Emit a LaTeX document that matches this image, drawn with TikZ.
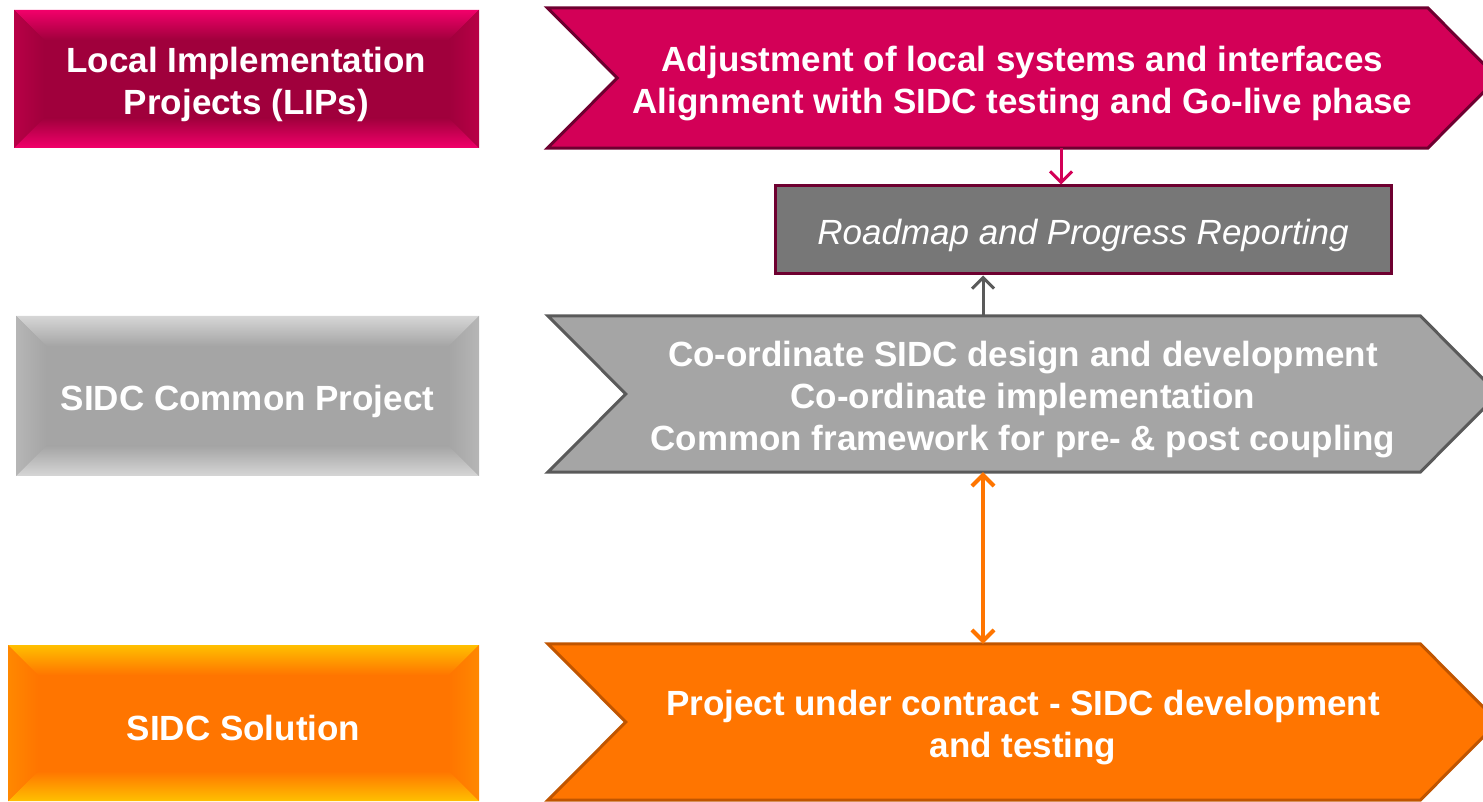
\documentclass[tikz,border=0pt]{standalone}
\usepackage{fontspec}
\setmainfont{Liberation Sans}
\usetikzlibrary{arrows.meta,backgrounds}

\definecolor{lipfill}{HTML}{D30057}
\definecolor{lipline}{HTML}{6E0030}
\definecolor{lipdark}{HTML}{A0003C}
\definecolor{liplight}{HTML}{F2006A}
\definecolor{lipside}{HTML}{B80046}
\definecolor{commonfill}{HTML}{A5A5A5}
\definecolor{commonline}{HTML}{5A5A5A}
\definecolor{commonlight}{HTML}{D6D6D6}
\definecolor{commonside}{HTML}{B6B6B6}
\definecolor{solfill}{HTML}{FF7500}
\definecolor{solline}{HTML}{C05500}
\definecolor{sollight}{HTML}{FFC000}
\definecolor{solside}{HTML}{FF8800}
\definecolor{roadgray}{HTML}{777777}

\newcommand{\lift}{\rule{0pt}{36pt}}

\begin{document}
\begin{tikzpicture}[x=1pt, y=1pt,
  every node/.style={text=white, align=center, inner sep=0pt,
    font=\fontsize{35}{42}\selectfont\bfseries},
  bevel/.style n args={3}{fill=#1, path picture={
    \coordinate (nw) at (path picture bounding box.north west);
    \coordinate (ne) at (path picture bounding box.north east);
    \coordinate (sw) at (path picture bounding box.south west);
    \coordinate (se) at (path picture bounding box.south east);
    \shade[top color=#2, bottom color=#1] (nw) -- (ne) -- ([shift={(-30,-30)}]ne) -- ([shift={(30,-30)}]nw) -- cycle;
    \shade[top color=#1, bottom color=#2] (sw) -- (se) -- ([shift={(-30,30)}]se) -- ([shift={(30,30)}]sw) -- cycle;
    \shade[left color=#3, right color=#1] (nw) -- ([shift={(30,-30)}]nw) -- ([shift={(30,30)}]sw) -- (sw) -- cycle;
    \shade[left color=#1, right color=#3] (ne) -- ([shift={(-30,-30)}]ne) -- ([shift={(-30,30)}]se) -- (se) -- cycle;
  }},
  body/.style={minimum width=950, minimum height=#1},
  chevron/.style={line width=3, line join=miter},
  link/.style={line width=3, -{Straight Barb[length=11, width=22, line width=3]}}
]
\useasboundingbox (0,0) rectangle (1483,801);

% left column
\node[bevel={lipdark}{liplight}{lipside}, minimum width=465, minimum height=138] (lip) at (246.5,722)
  {\lift Local Implementation\\Projects (LIPs)};
\node[bevel={commonfill}{commonlight}{commonside}, minimum width=463, minimum height=160] (common) at (247.5,405)
  {\lift SIDC Common Project};
\node[bevel={solfill}{sollight}{solside}, minimum width=471, minimum height=156] (solution) at (243.5,78)
  {\lift SIDC Solution};

% right column
\node[body=140] (adjust) at (1022.5,723)
  {\lift Adjustment of local systems and interfaces\\Alignment with SIDC testing and Go-live phase};
\node[body=156] (coord) at (1023,407)
  {\lift Co-ordinate SIDC design and development\\Co-ordinate implementation\\Common framework for pre- \& post coupling};
\node[body=156] (contract) at (1023,79)
  {\lift Project under contract - SIDC development\\and testing};

\begin{scope}[on background layer]
\foreach \n/\d/\c in {adjust/70/lip, coord/78/common, contract/78/sol}
  \draw[chevron, fill=\c fill, draw=\c line] (\n.north west) -- ([xshift=-\d]\n.north east) -- (\n.east)
    -- ([xshift=-\d]\n.south east) -- (\n.south west) -- ([xshift=\d]\n.west) -- cycle;
\end{scope}

\node[draw=lipline, fill=roadgray, line width=3, minimum width=616, minimum height=88,
  font=\fontsize{35}{42}\selectfont\itshape] (roadmap) at (1083,571) {\lift Roadmap and Progress Reporting};

% connectors
\coordinate (pinkx) at (1061,0);
\coordinate (grayx) at (983,0);
\draw[link, lipfill] (adjust.south -| pinkx) -- (roadmap.north -| pinkx);
\draw[link, commonline] (coord.north -| grayx) -- (roadmap.south -| grayx);
\draw[link, solfill, line width=4, {Straight Barb[length=11, width=22, line width=4]}-{Straight Barb[length=11, width=22, line width=4]}]
  (coord.south -| grayx) -- (contract.north -| grayx);
\end{tikzpicture}
\end{document}
